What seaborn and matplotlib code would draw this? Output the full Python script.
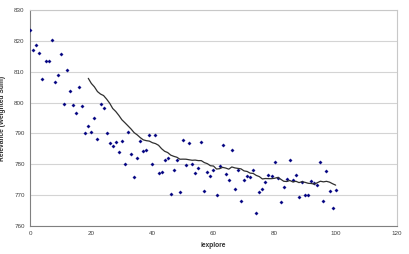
import matplotlib
matplotlib.use('Agg')
import matplotlib.pyplot as plt
import seaborn as sns
import pandas as pd
import numpy as np

# iexplore values (x = 0..100)
iexplore = list(range(0, 101))
relevance = [
    823.6, 817.2, 818.7, 816.0, 807.8, 813.5, 813.4, 820.3, 806.8, 809.1,
    815.9, 799.6, 810.5, 803.7, 799.4, 796.5, 805.2, 799.0, 790.0, 792.3,
    790.4, 795.1, 788.1, 799.7, 798.2, 790.3, 786.9, 785.8, 787.2, 784.0,
    787.4, 780.1, 790.4, 783.3, 775.8, 782.1, 787.4, 784.2, 784.7, 789.4,
    780.0, 789.4, 777.1, 777.5, 781.4, 782.0, 770.2, 778.0, 781.3, 771.0,
    788.0, 779.7, 786.8, 780.0, 777.0, 778.7, 787.3, 771.4, 777.6, 776.1,
    778.0, 769.9, 779.3, 786.1, 776.9, 774.9, 784.6, 771.8, 778.0, 768.0,
    774.8, 776.1, 775.9, 778.0, 764.1, 771.1, 771.9, 774.3, 776.6, 776.1,
    780.6, 775.4, 767.7, 772.7, 775.3, 781.5, 774.9, 776.4, 769.4, 774.3,
    770.1, 770.1, 774.5, 773.8, 773.3, 780.8, 767.9, 777.7, 771.3, 765.7,
    771.5,
]

df = pd.DataFrame({'iexplore': iexplore, 'relevance': relevance})
# 20 period moving average trendline
df['mov_avg'] = df['relevance'].rolling(20).mean()

sns.set_style('white')
plt.rcParams['font.family'] = ['Liberation Sans', 'DejaVu Sans']

fig, ax = plt.subplots(figsize=(4.09, 2.54), dpi=100)
fig.subplots_adjust(left=0.074, right=0.970, top=0.959, bottom=0.111)

sns.scatterplot(data=df, x='iexplore', y='relevance', marker='D', s=3,
                color='#000080', edgecolor='#000080', linewidth=0.2, ax=ax, zorder=3)
sns.lineplot(data=df.dropna(), x='iexplore', y='mov_avg', color='#303030',
             linewidth=0.9, ax=ax, zorder=4)

ax.set_xlim(0, 120)
ax.set_ylim(760, 830)
ax.set_xticks(range(0, 121, 20))
ax.set_yticks(range(760, 831, 10))
ax.yaxis.grid(True, color='#d4d4d4', linewidth=0.8)
ax.set_axisbelow(True)

for side in ['left', 'bottom']:
    ax.spines[side].set_color('#808080')
    ax.spines[side].set_linewidth(0.8)
for side in ['top', 'right']:
    ax.spines[side].set_color('#c8c8c8')
    ax.spines[side].set_linewidth(0.8)

ax.tick_params(axis='both', labelsize=4.5, colors='#404040', length=2, width=0.5, pad=2)
ax.set_xlabel('iexplore', fontsize=4.8, fontweight='bold', color='#303030', labelpad=4)
ax.set_ylabel('Relevance (Weighted Sum)', fontsize=4.8, fontweight='bold', color='#303030', labelpad=6)

fig.savefig('out.png', dpi=100)
